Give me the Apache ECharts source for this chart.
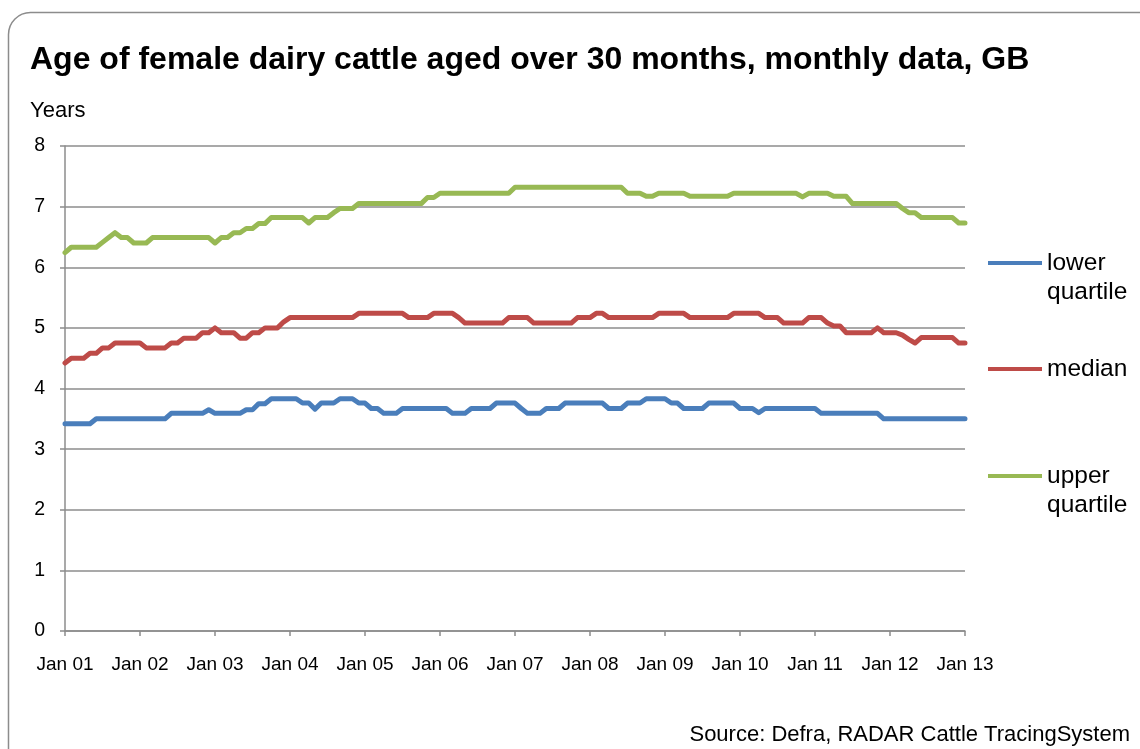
<!DOCTYPE html>
<html>
<head>
<meta charset="utf-8">
<script src="https://cdn.jsdelivr.net/npm/echarts@6/dist/echarts.min.js"></script>
<style>
html,body{margin:0;padding:0;background:#fff;}
#chart{width:1140px;height:749px;}
</style>
</head>
<body>
<div id="chart"></div>
<script>
// ---- Data (monthly, Jan 2001 - Jan 2013), age in years ----
const MONTH_NAMES = ['Jan','Feb','Mar','Apr','May','Jun','Jul','Aug','Sep','Oct','Nov','Dec'];
const YEARS = ['01','02','03','04','05','06','07','08','09','10','11','12','13'];
const YEAR_TICKS = ['Jan 01','Jan 02','Jan 03','Jan 04','Jan 05','Jan 06','Jan 07','Jan 08','Jan 09','Jan 10','Jan 11','Jan 12','Jan 13'];
const Y_TICKS = [0,1,2,3,4,5,6,7,8];

const lowerQuartile = [
  3.42,3.42,3.42,3.42,3.42,3.50,3.50,3.50,3.50,3.50,3.50,3.50,
  3.50,3.50,3.50,3.50,3.50,3.59,3.59,3.59,3.59,3.59,3.59,3.65,
  3.59,3.59,3.59,3.59,3.59,3.65,3.65,3.75,3.75,3.83,3.83,3.83,
  3.83,3.83,3.76,3.76,3.66,3.76,3.76,3.76,3.83,3.83,3.83,3.76,
  3.76,3.67,3.67,3.59,3.59,3.59,3.67,3.67,3.67,3.67,3.67,3.67,
  3.67,3.67,3.59,3.59,3.59,3.67,3.67,3.67,3.67,3.76,3.76,3.76,
  3.76,3.67,3.59,3.59,3.59,3.67,3.67,3.67,3.76,3.76,3.76,3.76,
  3.76,3.76,3.76,3.67,3.67,3.67,3.76,3.76,3.76,3.83,3.83,3.83,
  3.83,3.76,3.76,3.67,3.67,3.67,3.67,3.76,3.76,3.76,3.76,3.76,
  3.67,3.67,3.67,3.60,3.67,3.67,3.67,3.67,3.67,3.67,3.67,3.67,
  3.67,3.59,3.59,3.59,3.59,3.59,3.59,3.59,3.59,3.59,3.59,3.50,
  3.50,3.50,3.50,3.50,3.50,3.50,3.50,3.50,3.50,3.50,3.50,3.50,
  3.50
];
const median = [
  4.42,4.50,4.50,4.50,4.58,4.58,4.67,4.67,4.75,4.75,4.75,4.75,
  4.75,4.67,4.67,4.67,4.67,4.75,4.75,4.83,4.83,4.83,4.92,4.92,
  5.00,4.92,4.92,4.92,4.83,4.83,4.92,4.92,5.00,5.00,5.00,5.10,
  5.17,5.17,5.17,5.17,5.17,5.17,5.17,5.17,5.17,5.17,5.17,5.24,
  5.24,5.24,5.24,5.24,5.24,5.24,5.24,5.17,5.17,5.17,5.17,5.24,
  5.24,5.24,5.24,5.17,5.08,5.08,5.08,5.08,5.08,5.08,5.08,5.17,
  5.17,5.17,5.17,5.08,5.08,5.08,5.08,5.08,5.08,5.08,5.17,5.17,
  5.17,5.24,5.24,5.17,5.17,5.17,5.17,5.17,5.17,5.17,5.17,5.24,
  5.24,5.24,5.24,5.24,5.17,5.17,5.17,5.17,5.17,5.17,5.17,5.24,
  5.24,5.24,5.24,5.24,5.17,5.17,5.17,5.08,5.08,5.08,5.08,5.17,
  5.17,5.17,5.08,5.03,5.03,4.92,4.92,4.92,4.92,4.92,5.00,4.92,
  4.92,4.92,4.88,4.81,4.75,4.84,4.84,4.84,4.84,4.84,4.84,4.75,
  4.75
];
const upperQuartile = [
  6.24,6.33,6.33,6.33,6.33,6.33,6.41,6.49,6.57,6.49,6.49,6.40,
  6.40,6.40,6.49,6.49,6.49,6.49,6.49,6.49,6.49,6.49,6.49,6.49,
  6.40,6.49,6.49,6.57,6.57,6.64,6.64,6.72,6.72,6.82,6.82,6.82,
  6.82,6.82,6.82,6.73,6.82,6.82,6.82,6.90,6.97,6.97,6.97,7.05,
  7.05,7.05,7.05,7.05,7.05,7.05,7.05,7.05,7.05,7.05,7.15,7.15,
  7.22,7.22,7.22,7.22,7.22,7.22,7.22,7.22,7.22,7.22,7.22,7.22,
  7.32,7.32,7.32,7.32,7.32,7.32,7.32,7.32,7.32,7.32,7.32,7.32,
  7.32,7.32,7.32,7.32,7.32,7.32,7.22,7.22,7.22,7.17,7.17,7.22,
  7.22,7.22,7.22,7.22,7.17,7.17,7.17,7.17,7.17,7.17,7.17,7.22,
  7.22,7.22,7.22,7.22,7.22,7.22,7.22,7.22,7.22,7.22,7.16,7.22,
  7.22,7.22,7.22,7.17,7.17,7.17,7.05,7.05,7.05,7.05,7.05,7.05,
  7.05,7.05,6.97,6.90,6.90,6.82,6.82,6.82,6.82,6.82,6.82,6.73,
  6.73
];
const SERIES_NAMES = ['lower\nquartile','median','upper\nquartile'];
const SERIES_COLORS = ['#4A7EBB','#BE4B48','#98B954'];

// month categories
const categories = [];
for (let y = 0; y < YEARS.length; y++) {
  for (let m = 0; m < 12; m++) {
    if (y === YEARS.length - 1 && m > 0) break;
    categories.push(MONTH_NAMES[m] + ' ' + YEARS[y]);
  }
}

const FONT = '"Liberation Sans", Arial, sans-serif';
const GRID_COLOR = '#8c8c8c';
const LEG_LH = 29;

const chart = echarts.init(document.getElementById('chart'), null, {renderer: 'canvas'});

function legendFor(i, iconY, twoLine) {
  const boxH = twoLine ? 3 * LEG_LH : LEG_LH;
  return {
    show: true,
    orient: 'vertical',
    left: 988,
    top: iconY - boxH / 2,
    padding: 0,
    itemWidth: 54,
    itemHeight: 4,
    itemGap: 0,
    icon: 'rect',
    selectedMode: false,
    data: [{name: SERIES_NAMES[i], itemStyle: {color: SERIES_COLORS[i]}}],
    // a blank leading line keeps the icon level with the first word
    formatter: function (name) { return twoLine ? ' \n' + name : name; },
    textStyle: {fontFamily: FONT, fontSize: 24.5, color: '#000', lineHeight: LEG_LH}
  };
}

const option = {
  animation: false,
  backgroundColor: '#fff',
  title: [
    {
      text: 'Age of female dairy cattle aged over 30 months, monthly data, GB',
      left: 30, top: 44, padding: 0,
      textStyle: {fontFamily: FONT, fontSize: 32, fontWeight: 'bold', color: '#000'}
    },
    {
      text: 'Years',
      left: 30, top: 100, padding: 0,
      textStyle: {fontFamily: FONT, fontSize: 22, fontWeight: 'normal', color: '#000'}
    },
    {
      text: 'Source: Defra, RADAR Cattle TracingSystem',
      right: 10, top: 724, padding: 0,
      textStyle: {fontFamily: FONT, fontSize: 22, fontWeight: 'normal', color: '#000'}
    }
  ],
  legend: [
    legendFor(0, 263, true),
    legendFor(1, 369, false),
    legendFor(2, 476, true)
  ],
  grid: {left: 65, right: 175, top: 146, bottom: 118, containLabel: false},
  xAxis: {
    type: 'category',
    data: categories,
    boundaryGap: false,
    axisLine: {show: true, lineStyle: {color: GRID_COLOR, width: 1.5}},
    axisTick: {show: true, interval: 11, length: 5, lineStyle: {color: GRID_COLOR, width: 1.5}},
    axisLabel: {
      interval: 11, margin: 24,
      fontFamily: FONT, fontSize: 19, color: '#000',
      formatter: function (v, idx) { return YEAR_TICKS[Math.round(idx / 12)]; }
    },
    splitLine: {show: false}
  },
  yAxis: {
    type: 'value',
    min: Y_TICKS[0], max: Y_TICKS[Y_TICKS.length - 1], interval: 1,
    axisLine: {show: true, lineStyle: {color: GRID_COLOR, width: 1.5}},
    axisTick: {show: true, length: 5, lineStyle: {color: GRID_COLOR, width: 1.5}},
    axisLabel: {margin: 20, fontFamily: FONT, fontSize: 19.5, color: '#000'},
    splitLine: {show: true, lineStyle: {color: GRID_COLOR, width: 1.5}}
  },
  series: [lowerQuartile, median, upperQuartile].map(function (d, i) {
    return {
      name: SERIES_NAMES[i],
      type: 'line',
      data: d,
      showSymbol: false,
      symbol: 'none',
      color: SERIES_COLORS[i],
      lineStyle: {color: SERIES_COLORS[i], width: 5, cap: 'round', join: 'round'}
    };
  }),
  graphic: [{
    type: 'rect',
    silent: true,
    z: -1,
    shape: {x: 8.5, y: 12.5, width: 1200, height: 800, r: 22},
    style: {fill: 'none', stroke: GRID_COLOR, lineWidth: 1.5}
  }]
};
chart.setOption(option);
</script>
</body>
</html>
